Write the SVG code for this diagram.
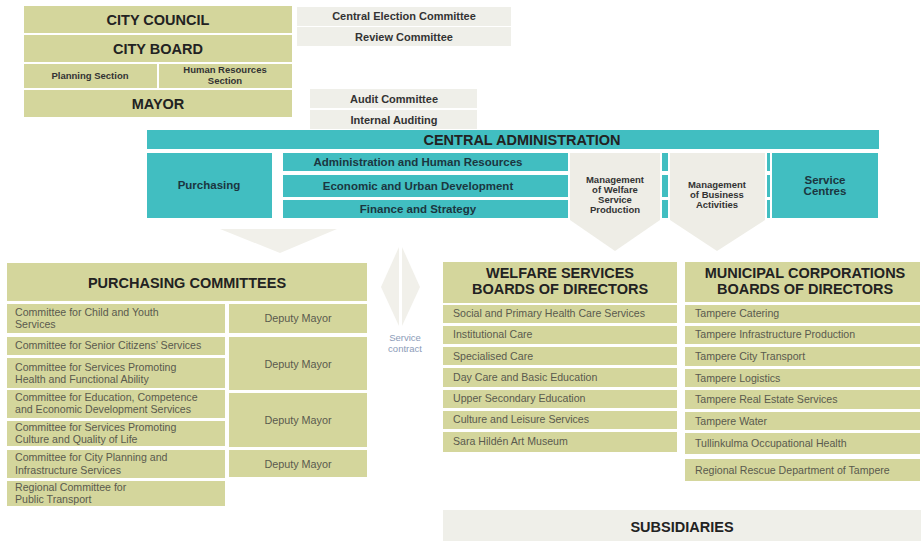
<svg xmlns="http://www.w3.org/2000/svg" width="921" height="541" viewBox="0 0 921 541">
<style>
.g{fill:#d4d69c}
.t{fill:#41bec1}
.l{fill:#efefe9}
.a{fill:#eeede6}
.arr{fill:#f1f0ea}
text{font-family:"Liberation Sans",Arial,sans-serif}
.hb{font-weight:bold;font-size:14.5px;fill:#222;text-anchor:middle}
.mb{font-weight:bold;font-size:11px;fill:#333;text-anchor:middle}
.sb{font-weight:bold;font-size:9.5px;fill:#333;text-anchor:middle}
.tb{font-weight:bold;font-size:11.5px;fill:#1b3640;text-anchor:middle}
.it{font-size:10.6px;fill:#5a5a4e}
.dm{font-size:10.8px;fill:#5a5a4e;text-anchor:middle}
.sc{font-size:9.5px;fill:#8c9bb8;text-anchor:middle}
</style>
<rect width="921" height="541" fill="#ffffff"/>

<g id="connectors">
  <polygon class="arr" points="220,229 337,229 280,253"/>
  <polygon class="arr" points="399,247 399,326 381,287"/>
  <polygon class="arr" points="402,247 402,326 420,287"/>
</g>

<g id="city-council"><rect class="g" x="24" y="6" width="268" height="27"/><text class="hb" x="158" y="25" font-size="15">CITY COUNCIL</text></g>
<g id="city-board"><rect class="g" x="24" y="35" width="268" height="27"/><text class="hb" x="158" y="54">CITY BOARD</text></g>
<g id="planning-section"><rect class="g" x="24" y="64" width="133" height="24"/><text class="sb" x="90" y="79">Planning Section</text></g>
<g id="hr-section"><rect class="g" x="159" y="64" width="133" height="24"/><text class="sb" x="225" y="73">Human Resources</text><text class="sb" x="225" y="84">Section</text></g>
<g id="mayor"><rect class="g" x="24" y="90" width="268" height="27"/><text class="hb" x="158" y="109">MAYOR</text></g>

<g id="central-election"><rect class="l" x="297" y="7" width="214" height="19"/><text class="mb" x="404" y="20">Central Election Committee</text></g>
<g id="review-committee"><rect class="l" x="297" y="27" width="214" height="19"/><text class="mb" x="404" y="41">Review Committee</text></g>
<g id="audit-committee"><rect class="l" x="310" y="89" width="167" height="19"/><text class="mb" x="394" y="103">Audit Committee</text></g>
<g id="internal-auditing"><rect class="l" x="310" y="110" width="167" height="19"/><text class="mb" x="394" y="124">Internal Auditing</text></g>

<g id="central-administration"><rect class="t" x="147" y="130" width="732" height="19"/><text class="hb" x="522" y="145" fill="#1b3640" font-size="14">CENTRAL ADMINISTRATION</text></g>
<g id="purchasing"><rect class="t" x="147" y="153" width="125" height="65"/><text class="tb" x="209" y="189">Purchasing</text></g>
<g id="admin-hr"><rect class="t" x="283" y="153" width="285" height="18"/><rect class="t" x="662" y="153" width="6" height="18"/><rect class="t" x="767" y="153" width="3" height="18"/><text class="tb" x="418" y="166">Administration and Human Resources</text></g>
<g id="economic-urban"><rect class="t" x="283" y="175" width="285" height="22"/><rect class="t" x="662" y="175" width="6" height="22"/><rect class="t" x="767" y="175" width="3" height="22"/><text class="tb" x="418" y="190">Economic and Urban Development</text></g>
<g id="finance-strategy"><rect class="t" x="283" y="200" width="285" height="18"/><rect class="t" x="662" y="200" width="6" height="18"/><rect class="t" x="767" y="200" width="3" height="18"/><text class="tb" x="418" y="213">Finance and Strategy</text></g>
<g id="management-welfare"><polygon class="a" points="570,153 660,153 660,220 615,251 570,220"/><text class="sb" x="615" y="183" font-size="9">Management</text><text class="sb" x="615" y="193" font-size="9">of Welfare</text><text class="sb" x="615" y="203" font-size="9">Service</text><text class="sb" x="615" y="213" font-size="9">Production</text></g>
<g id="management-business"><polygon class="a" points="670,153 765,153 765,220 717,251 670,220"/><text class="sb" x="717" y="188" font-size="9">Management</text><text class="sb" x="717" y="198" font-size="9">of Business</text><text class="sb" x="717" y="208" font-size="9">Activities</text></g>
<g id="service-centres"><rect class="t" x="772" y="153" width="106" height="65"/><text class="tb" x="825" y="184">Service</text><text class="tb" x="825" y="195">Centres</text></g>

<g id="service-contract"><text class="sc" x="405" y="341">Service</text><text class="sc" x="405" y="352">contract</text></g>

<g id="purchasing-committees"><rect class="g" x="7" y="263" width="360" height="38"/><text class="hb" x="187" y="288">PURCHASING COMMITTEES</text></g>
<g id="pc-child"><rect class="g" x="7" y="304" width="218" height="29"/><text class="it" x="15" y="316">Committee for Child and Youth</text><text class="it" x="15" y="328">Services</text></g>
<g id="pc-senior"><rect class="g" x="7" y="337" width="218" height="18"/><text class="it" x="15" y="349">Committee for Senior Citizens’ Services</text></g>
<g id="pc-health"><rect class="g" x="7" y="358" width="218" height="30"/><text class="it" x="15" y="371">Committee for Services Promoting</text><text class="it" x="15" y="383">Health and Functional Ability</text></g>
<g id="pc-education"><rect class="g" x="7" y="390" width="218" height="28"/><text class="it" x="15" y="401">Committee for Education, Competence</text><text class="it" x="15" y="413">and Economic Development Services</text></g>
<g id="pc-culture"><rect class="g" x="7" y="421" width="218" height="25"/><text class="it" x="15" y="431">Committee for Services Promoting</text><text class="it" x="15" y="443">Culture and Quality of Life</text></g>
<g id="pc-planning"><rect class="g" x="7" y="450" width="218" height="28"/><text class="it" x="15" y="461">Committee for City Planning and</text><text class="it" x="15" y="474">Infrastructure Services</text></g>
<g id="pc-transport"><rect class="g" x="7" y="481" width="218" height="25"/><text class="it" x="15" y="491">Regional Committee for</text><text class="it" x="15" y="503">Public Transport</text></g>
<g id="deputy-mayor-1"><rect class="g" x="229" y="304" width="138" height="29"/><text class="dm" x="298" y="322">Deputy Mayor</text></g>
<g id="deputy-mayor-2"><rect class="g" x="229" y="337" width="138" height="53"/><text class="dm" x="298" y="368">Deputy Mayor</text></g>
<g id="deputy-mayor-3"><rect class="g" x="229" y="393" width="138" height="54"/><text class="dm" x="298" y="424">Deputy Mayor</text></g>
<g id="deputy-mayor-4"><rect class="g" x="229" y="450" width="138" height="27"/><text class="dm" x="298" y="468">Deputy Mayor</text></g>

<g id="welfare-boards"><rect class="g" x="443" y="262" width="234" height="41"/><text class="hb" x="560" y="278">WELFARE SERVICES</text><text class="hb" x="560" y="294">BOARDS OF DIRECTORS</text></g>
<g id="w-social"><rect class="g" x="443" y="305" width="234" height="18"/><text class="it" x="453" y="317">Social and Primary Health Care Services</text></g>
<g id="w-institutional"><rect class="g" x="443" y="326" width="234" height="18"/><text class="it" x="453" y="338">Institutional Care</text></g>
<g id="w-specialised"><rect class="g" x="443" y="347" width="234" height="18"/><text class="it" x="453" y="360">Specialised Care</text></g>
<g id="w-daycare"><rect class="g" x="443" y="368" width="234" height="19"/><text class="it" x="453" y="381">Day Care and Basic Education</text></g>
<g id="w-upper"><rect class="g" x="443" y="390" width="234" height="18"/><text class="it" x="453" y="402">Upper Secondary Education</text></g>
<g id="w-culture"><rect class="g" x="443" y="411" width="234" height="18"/><text class="it" x="453" y="423">Culture and Leisure Services</text></g>
<g id="w-museum"><rect class="g" x="443" y="432" width="234" height="20"/><text class="it" x="453" y="445">Sara Hildén Art Museum</text></g>

<g id="municipal-boards"><rect class="g" x="685" y="262" width="235" height="40"/><text class="hb" x="805" y="278">MUNICIPAL CORPORATIONS</text><text class="hb" x="805" y="294">BOARDS OF DIRECTORS</text></g>
<g id="m-catering"><rect class="g" x="685" y="305" width="235" height="18"/><text class="it" x="695" y="317">Tampere Catering</text></g>
<g id="m-infra"><rect class="g" x="685" y="326" width="235" height="18"/><text class="it" x="695" y="338">Tampere Infrastructure Production</text></g>
<g id="m-transport"><rect class="g" x="685" y="347" width="235" height="19"/><text class="it" x="695" y="360">Tampere City Transport</text></g>
<g id="m-logistics"><rect class="g" x="685" y="369" width="235" height="18"/><text class="it" x="695" y="382">Tampere Logistics</text></g>
<g id="m-realestate"><rect class="g" x="685" y="390" width="235" height="19"/><text class="it" x="695" y="403">Tampere Real Estate Services</text></g>
<g id="m-water"><rect class="g" x="685" y="412" width="235" height="18"/><text class="it" x="695" y="425">Tampere Water</text></g>
<g id="m-health"><rect class="g" x="685" y="433" width="235" height="21"/><text class="it" x="695" y="447">Tullinkulma Occupational Health</text></g>
<g id="m-rescue"><rect class="g" x="685" y="459" width="235" height="22"/><text class="it" x="695" y="474">Regional Rescue Department of Tampere</text></g>

<g id="subsidiaries"><rect class="l" x="443" y="510" width="478" height="31"/><text class="hb" x="682" y="532" font-size="15">SUBSIDIARIES</text></g>
</svg>
